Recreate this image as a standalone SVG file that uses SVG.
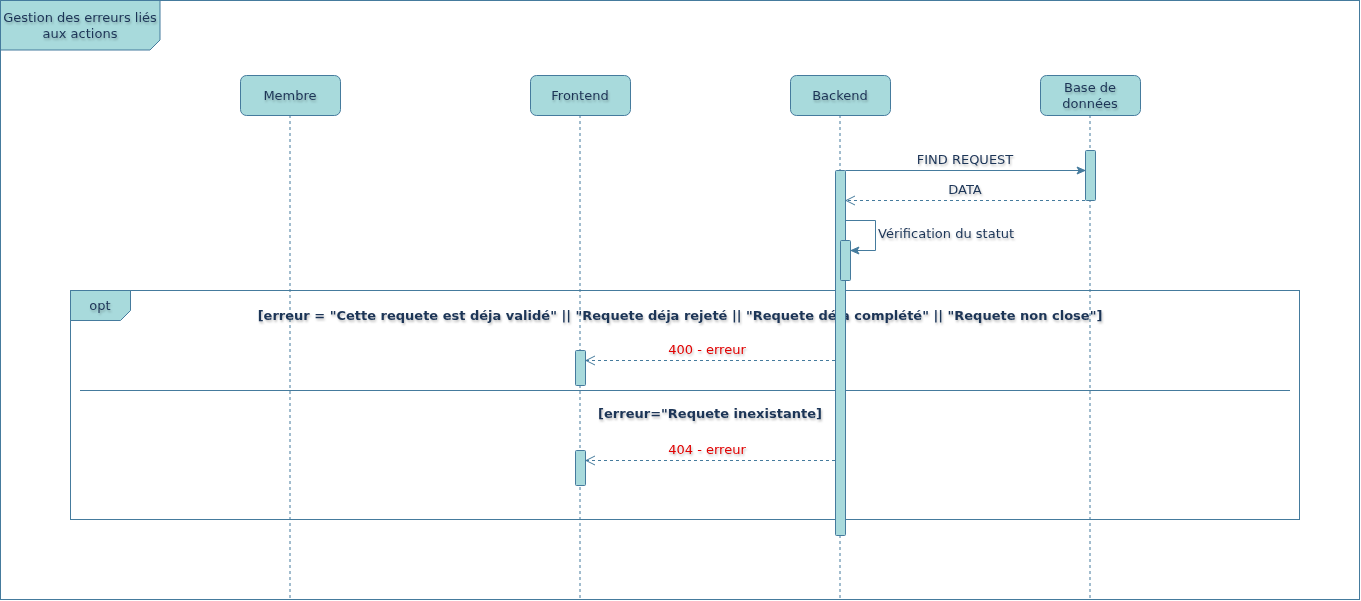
<svg xmlns="http://www.w3.org/2000/svg" width="1361" height="601" viewBox="0 0 1361 601">
<defs>
<style>
.box{fill:#a8dadc;stroke:#457b9d;stroke-width:1}
.t{font-family:"DejaVu Sans",Verdana,sans-serif;font-size:13px;fill:#1d3557}
.c{text-anchor:middle}
.b{font-weight:bold}
.red{fill:#e00000}
.life{stroke:#457b9d;stroke-width:1;stroke-dasharray:3 3;fill:none}
.line{stroke:#457b9d;stroke-width:1;fill:none}
.dash{stroke:#457b9d;stroke-width:1;stroke-dasharray:3 3;fill:none}
</style>
<filter id="sh" x="-10%" y="-30%" width="120%" height="160%">
<feDropShadow dx="1" dy="2" stdDeviation="1.2" flood-color="#000" flood-opacity="0.25"/>
</filter>
<marker id="fill" markerWidth="10" markerHeight="10" refX="9" refY="5" orient="auto" markerUnits="userSpaceOnUse">
<path d="M1,1.5 L9,5 L1,8.5 L3,5 Z" fill="#457b9d" stroke="#457b9d"/>
</marker>
<marker id="open" markerWidth="12" markerHeight="12" refX="10" refY="6" orient="auto" markerUnits="userSpaceOnUse">
<path d="M1,1.5 L10,6 L1,10.5" fill="none" stroke="#457b9d"/>
</marker>
</defs>
<rect x="0.5" y="0.5" width="1359" height="599" fill="#fff" stroke="#457b9d"/>
<g id="title">
<path class="box" d="M0.5,0.5 H160 V40 L150,50 H0.5 Z"/>
<text class="t c" x="80" y="22" filter="url(#sh)">Gestion des erreurs liés</text>
<text class="t c" x="80" y="38" filter="url(#sh)">aux actions</text>
</g>
<g id="lifelines">
<line class="life" x1="290" y1="115" x2="290" y2="600"/>
<line class="life" x1="580" y1="115" x2="580" y2="600"/>
<line class="life" x1="840" y1="115" x2="840" y2="600"/>
<line class="life" x1="1090" y1="115" x2="1090" y2="600"/>
</g>
<g id="membre">
<rect class="box" x="240.5" y="75.5" width="100" height="40" rx="6"/>
<text class="t c" x="290" y="100" filter="url(#sh)">Membre</text>
</g>
<g id="frontend">
<rect class="box" x="530.5" y="75.5" width="100" height="40" rx="6"/>
<text class="t c" x="580" y="100" filter="url(#sh)">Frontend</text>
</g>
<g id="backend">
<rect class="box" x="790.5" y="75.5" width="100" height="40" rx="6"/>
<text class="t c" x="840" y="100" filter="url(#sh)">Backend</text>
</g>
<g id="bdd">
<rect class="box" x="1040.5" y="75.5" width="100" height="40" rx="6"/>
<text class="t c" x="1090" y="92" filter="url(#sh)">Base de</text>
<text class="t c" x="1090" y="108" filter="url(#sh)">données</text>
</g>
<g id="opt">
<rect x="70.5" y="290.5" width="1229" height="229" fill="none" stroke="#457b9d"/>
<path class="box" d="M70.5,290.5 H130.5 V310.5 L120.5,320.5 H70.5 Z"/>
<text class="t c" x="100" y="310" filter="url(#sh)">opt</text>
<text class="t c b" x="680" y="320" filter="url(#sh)">[erreur = "Cette requete est déja validé" || "Requete déja rejeté || "Requete déja complété" || "Requete non close"]</text>
<line class="line" x1="80" y1="390.5" x2="1290" y2="390.5"/>
<text class="t c b" x="710" y="418" filter="url(#sh)">[erreur="Requete inexistante]</text>
</g>
<g id="activations">
<rect class="box" x="1085.5" y="150.5" width="10" height="50" rx="1"/>
<rect class="box" x="835.5" y="170.5" width="10" height="365" rx="1"/>
<rect class="box" x="840.5" y="240.5" width="10" height="40" rx="1"/>
<rect class="box" x="575.5" y="350.5" width="10" height="35" rx="1"/>
<rect class="box" x="575.5" y="450.5" width="10" height="35" rx="1"/>
</g>
<g id="connectors">
<line class="line" x1="845.5" y1="170.5" x2="1085" y2="170.5" marker-end="url(#fill)"/>
<text class="t c" x="965" y="164" filter="url(#sh)">FIND REQUEST</text>
<line class="dash" x1="1085" y1="200.5" x2="846" y2="200.5" marker-end="url(#open)"/>
<text class="t c" x="965" y="194" filter="url(#sh)">DATA</text>
<path class="line" d="M845.5,220.5 H875.5 V250.5 H851" marker-end="url(#fill)"/>
<text class="t" x="878" y="238" filter="url(#sh)">Vérification du statut</text>
<line class="dash" x1="835" y1="360.5" x2="586" y2="360.5" marker-end="url(#open)"/>
<text class="t c red" x="707" y="354" filter="url(#sh)">400 - erreur</text>
<line class="dash" x1="835" y1="460.5" x2="586" y2="460.5" marker-end="url(#open)"/>
<text class="t c red" x="707" y="454" filter="url(#sh)">404 - erreur</text>
</g>
</svg>
